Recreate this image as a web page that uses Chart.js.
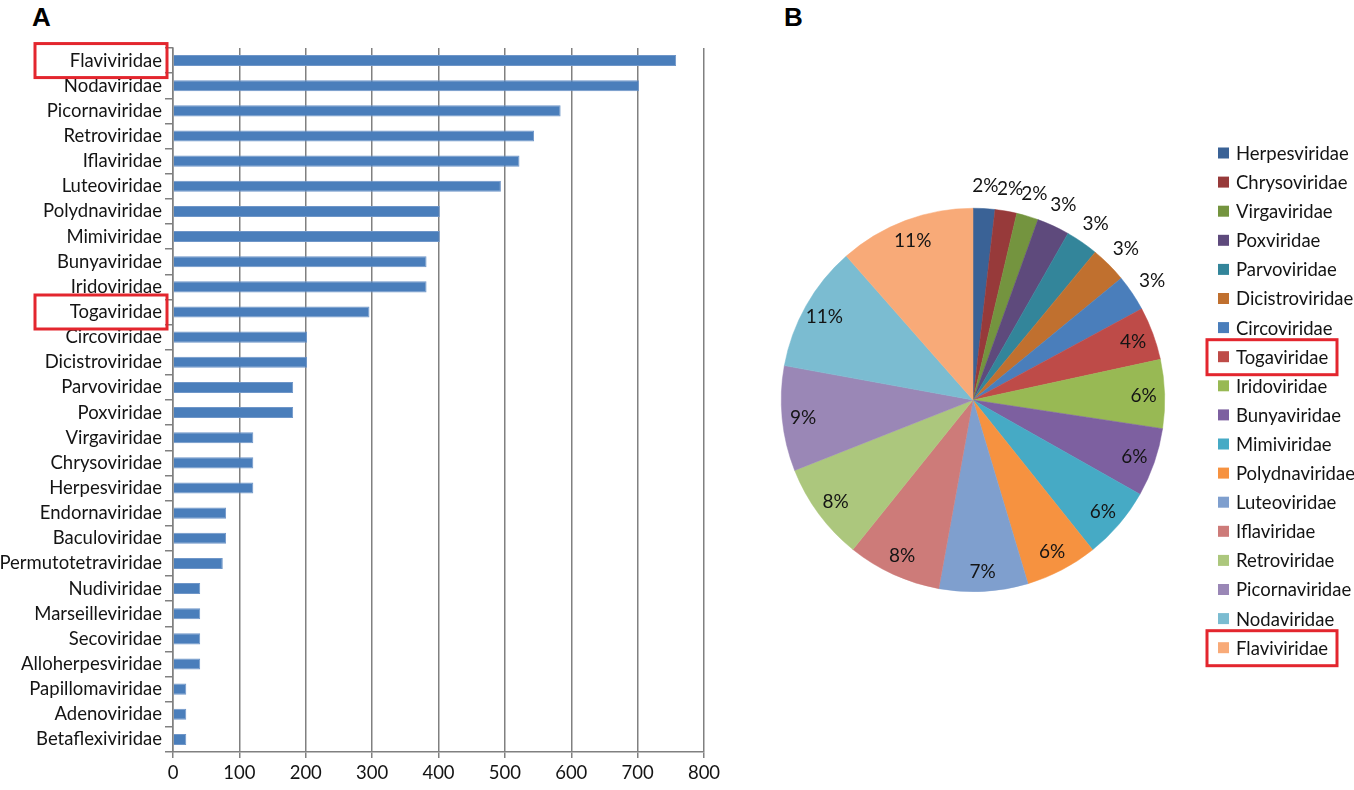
<!DOCTYPE html>
<html>
<head>
<meta charset="utf-8">
<title>Virus families</title>
<script src="https://cdn.jsdelivr.net/npm/chart.js@4.4.0/dist/chart.umd.min.js"></script>
<style>
  html, body { margin: 0; padding: 0; background: #fff; }
  body { width: 1354px; height: 790px; position: relative; overflow: hidden; }
  .panel { position: absolute; font: bold 26px "Liberation Sans", Arial, sans-serif; line-height: 26px; color: #000; }
  #barWrap { position: absolute; left: 0; top: 0; width: 720px; height: 790px; }
  #pieWrap { position: absolute; left: 720px; top: 0; width: 634px; height: 790px; }
</style>
</head>
<body>
<div class="panel" style="left:32px; top:4px;">A</div>
<div class="panel" style="left:784px; top:4px;">B</div>
<div id="barWrap"><canvas id="barChart" width="720" height="790"></canvas></div>
<div id="pieWrap"><canvas id="pieChart" width="634" height="790"></canvas></div>
<script>
// panel A: families sorted by count (top to bottom)
const families = [
  'Flaviviridae', 'Nodaviridae', 'Picornaviridae', 'Retroviridae', 'Iflaviridae',
  'Luteoviridae', 'Polydnaviridae', 'Mimiviridae', 'Bunyaviridae', 'Iridoviridae',
  'Togaviridae', 'Circoviridae', 'Dicistroviridae', 'Parvoviridae', 'Poxviridae',
  'Virgaviridae', 'Chrysoviridae', 'Herpesviridae', 'Endornaviridae', 'Baculoviridae',
  'Permutotetraviridae', 'Nudiviridae', 'Marseilleviridae', 'Secoviridae',
  'Alloherpesviridae', 'Papillomaviridae', 'Adenoviridae', 'Betaflexiviridae'
];
const counts = [
  758, 702, 584, 544, 522,
  494, 402, 402, 382, 382,
  296, 202, 202, 181, 181,
  121, 121, 121, 80, 80,
  75, 41, 41, 41,
  41, 20, 20, 20
];
const xTicks = [0, 100, 200, 300, 400, 500, 600, 700, 800];

// panel B: the 18 largest families, smallest first (clockwise from 12 o'clock)
const pieFamilies = families.slice(0, 18).reverse();
const pieCounts = counts.slice(0, 18).reverse();
const pieColors = [
  '#3A6296', '#973A3A', '#74943F', '#5E4A7C', '#33859A', '#C0702F',
  '#4A7EBB', '#BE4B48', '#98B954', '#7D60A0', '#46AAC5', '#F69240',
  '#7F9FCE', '#CD7B79', '#ACC77D', '#9A87B6', '#7BBCD1', '#F8AA78'
];
const highlighted = ['Flaviviridae', 'Togaviridae'];

const FONT = 'Lato, "Liberation Sans", sans-serif';
const TEXT = '#141414';
const GRID = '#808080';
const RED = '#E3262E';

// red frames around the highlighted category labels
const barHighlight = {
  id: 'barHighlight',
  afterDraw(chart) {
    const ctx = chart.ctx;
    const y = chart.scales.y;
    ctx.save();
    ctx.strokeStyle = RED;
    ctx.lineWidth = 3;
    highlighted.forEach(name => {
      const py = y.getPixelForValue(families.indexOf(name));
      ctx.strokeRect(35, py - 17, 132, 34);
    });
    ctx.restore();
  }
};

new Chart(document.getElementById('barChart'), {
  type: 'bar',
  data: {
    labels: families,
    datasets: [{
      data: counts,
      backgroundColor: '#4A7EBB',
      borderColor: '#6F96C8',
      borderWidth: 1,
      barPercentage: 0.44,
      categoryPercentage: 1
    }]
  },
  options: {
    indexAxis: 'y',
    responsive: false,
    animation: false,
    layout: { padding: { top: 48, right: 16, left: 0, bottom: 0 } },
    plugins: { legend: { display: false }, tooltip: { enabled: false } },
    scales: {
      x: {
        min: 0, max: 800,
        afterBuildTicks: s => { s.ticks = xTicks.map(v => ({ value: v })); },
        afterFit: s => { s.height = 38; s.paddingLeft = 0; s.paddingRight = 0; },
        ticks: { color: TEXT, font: { family: FONT, size: 18.5 }, padding: 4 },
        grid: { color: GRID, lineWidth: 1.5, tickLength: 6 },
        border: { color: GRID, width: 1.5 }
      },
      y: {
        afterFit: s => { s.width = 173; s.paddingTop = 0; s.paddingBottom = 0; },
        ticks: { color: TEXT, font: { family: FONT, size: 18.5 }, padding: 3, autoSkip: false },
        grid: { drawOnChartArea: false, color: GRID, lineWidth: 1.5, tickLength: 8, offset: true },
        border: { color: GRID, width: 1.5 }
      }
    }
  },
  plugins: [barHighlight]
});

// percentage labels: inside near the rim, small slices just outside
const pieLabels = {
  id: 'pieLabels',
  afterDatasetsDraw(chart) {
    const ctx = chart.ctx;
    const meta = chart.getDatasetMeta(0);
    const data = chart.data.datasets[0].data;
    const total = data.reduce((a, b) => a + b, 0);
    ctx.save();
    ctx.font = '19px ' + FONT;
    ctx.fillStyle = TEXT;
    ctx.textAlign = 'center';
    ctx.textBaseline = 'middle';
    meta.data.forEach((arc, i) => {
      const pct = data[i] / total * 100;
      const mid = (arc.startAngle + arc.endAngle) / 2;
      const r = pct < 3.5 ? arc.outerRadius + 24 : arc.outerRadius * 0.89;
      ctx.fillText(Math.round(pct) + '%', arc.x + Math.cos(mid) * r, arc.y + Math.sin(mid) * r + 1);
    });
    ctx.restore();
  }
};

// legend to the right of the pie
const pieLegend = {
  id: 'pieLegend',
  afterDraw(chart) {
    const ctx = chart.ctx;
    const top = 153, step = 29.1;
    ctx.save();
    ctx.font = '18.5px ' + FONT;
    ctx.textAlign = 'left';
    ctx.textBaseline = 'middle';
    chart.data.labels.forEach((name, i) => {
      const y = top + i * step;
      ctx.fillStyle = pieColors[i];
      ctx.fillRect(498, y - 5.5, 11, 11);
      ctx.fillStyle = TEXT;
      ctx.fillText(name, 516, y + 1);
      if (highlighted.includes(name)) {
        ctx.strokeStyle = RED;
        ctx.lineWidth = 3;
        ctx.strokeRect(487, y - 17, 130, 35);
      }
    });
    ctx.restore();
  }
};

new Chart(document.getElementById('pieChart'), {
  type: 'pie',
  data: {
    labels: pieFamilies,
    datasets: [{
      data: pieCounts,
      backgroundColor: pieColors,
      borderColor: pieColors,
      borderWidth: 0.5
    }]
  },
  options: {
    responsive: false,
    animation: false,
    layout: { padding: { left: 61, right: 189, top: 208, bottom: 198 } },
    plugins: { legend: { display: false }, tooltip: { enabled: false } }
  },
  plugins: [pieLabels, pieLegend]
});
</script>
</body>
</html>
